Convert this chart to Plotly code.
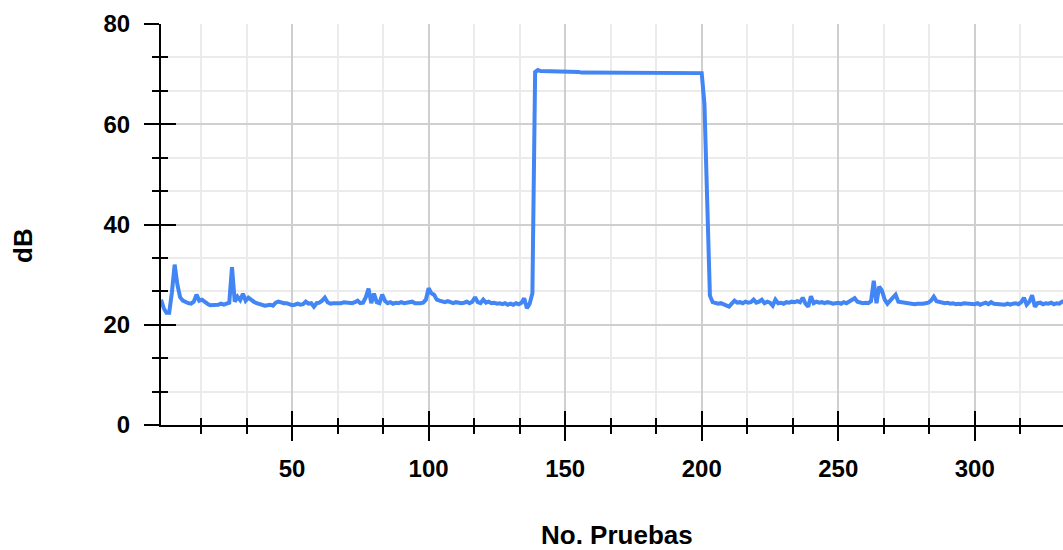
import plotly.graph_objects as go

# Test number (x) and measured level in dB (y)
pruebas = list(range(2, 334))

db_values = [
    25.0, 23.3, 22.4, 22.4, 26.5, 32.0, 28.0, 25.5, 24.8,            # 2-10
    24.5, 24.3, 24.2, 24.6, 26.0, 24.8, 25.0, 24.5, 24.2, 23.9,      # 11-20
    23.9, 24.1, 24.0, 24.2, 24.0, 24.2, 24.4, 31.5, 24.6, 25.6,      # 21-30
    24.9, 26.2, 24.8, 25.4, 24.9, 24.6, 24.3, 24.1, 23.9, 23.8,      # 31-40
    23.9, 24.0, 23.8, 24.4, 24.6, 24.4, 24.3, 24.3, 24.1, 23.9,      # 41-50
    24.0, 24.2, 24.0, 24.1, 24.6, 24.2, 24.3, 23.6, 24.3, 24.4,      # 51-60
    24.8, 25.4, 24.5, 24.2, 24.3, 24.3, 24.4, 24.3, 24.5, 24.4,      # 61-70
    24.4, 24.3, 24.5, 24.8, 24.3, 24.4, 25.5, 27.2, 24.3, 26.2,      # 71-80
    24.5, 24.3, 26.0, 24.8, 24.3, 24.5, 24.2, 24.4, 24.3, 24.5,      # 81-90
    24.3, 24.4, 24.5, 24.6, 24.3, 24.2, 24.3, 24.4, 25.0, 27.3,      # 91-100
    26.3, 26.0, 25.0, 24.8, 24.6, 24.5, 24.7, 24.4, 24.3, 24.5,      # 101-110
    24.4, 24.3, 24.4, 24.6, 24.3, 24.6, 25.5, 24.5, 24.3, 25.0,      # 111-120
    24.4, 24.6, 24.3, 24.4, 24.2, 24.3, 24.1, 24.3, 24.0, 24.2,      # 121-130
    24.0, 24.3, 24.1, 24.4, 25.3, 23.3, 24.2, 26.3, 70.4, 70.8,      # 131-140
    70.6, 70.6, 70.6, 70.6, 70.6, 70.4, 70.4, 70.4, 70.4, 70.4,      # 141-150
    70.4, 70.4, 70.4, 70.4, 70.4, 70.3, 70.3, 70.3, 70.3, 70.3,      # 151-160
    70.3, 70.3, 70.3, 70.3, 70.3, 70.3, 70.3, 70.3, 70.3, 70.3,      # 161-170
    70.3, 70.3, 70.3, 70.3, 70.3, 70.2, 70.2, 70.2, 70.2, 70.2,      # 171-180
    70.2, 70.2, 70.2, 70.2, 70.2, 70.2, 70.2, 70.2, 70.2, 70.2,      # 181-190
    70.2, 70.2, 70.2, 70.2, 70.2, 70.2, 70.2, 70.2, 70.2, 70.2,      # 191-200
    64.0, 45.0, 25.8, 24.5, 24.3, 24.2, 24.3, 24.1, 24.0, 23.6,      # 201-210
    24.2, 24.8, 24.4, 24.5, 24.3, 24.6, 24.4, 24.5, 25.0, 24.4,      # 211-220
    24.6, 25.0, 24.3, 24.6, 24.4, 23.8, 25.0, 24.3, 24.4, 24.2,      # 221-230
    24.5, 24.4, 24.6, 24.5, 24.7, 24.5, 25.4, 24.2, 23.6, 25.7,      # 231-240
    24.3, 24.6, 24.4, 24.5, 24.3, 24.5, 24.4, 24.2, 24.3, 24.4,      # 241-250
    24.2, 24.5, 24.3, 24.6, 24.8, 25.3, 24.6, 24.4, 24.3, 24.4,      # 251-260
    24.3, 24.7, 28.8, 24.3, 27.6, 26.8, 25.0, 24.2, 24.8, 25.2,      # 261-270
    26.0, 24.6, 24.5, 24.4, 24.3, 24.2, 24.2, 24.1, 24.2, 24.1,      # 271-280
    24.2, 24.3, 24.4, 24.8, 25.6, 24.7, 24.5, 24.4, 24.3, 24.4,      # 281-290
    24.2, 24.3, 24.1, 24.2, 24.1, 24.3, 24.2, 24.1, 24.0, 24.1,      # 291-300
    24.3, 24.0, 24.2, 24.4, 24.1, 24.5, 24.2, 24.1, 24.0, 23.9,      # 301-310
    24.0, 24.2, 24.0, 24.2, 24.3, 24.1, 24.5, 25.4, 24.0, 24.6,      # 311-320
    25.9, 23.6, 24.3, 24.4, 24.1, 24.3, 24.2, 24.4, 24.1, 24.3,      # 321-330
    24.2, 24.6, 24.7,                                                # 331-333
]

x_major_ticks = [50, 100, 150, 200, 250, 300]
y_major_ticks = [0, 20, 40, 60, 80]
x_title = "No. Pruebas"
y_title = "dB"

FONT = "Liberation Sans, Arial, sans-serif"
tickfont = dict(family=FONT, size=24, color="#000000", weight="bold")
titlefont = dict(family=FONT, size=26, color="#000000", weight="bold")

fig = go.Figure()
fig.add_trace(go.Scatter(
    x=pruebas, y=db_values, mode="lines",
    line=dict(color="#4285F4", width=4),
    xaxis="x", yaxis="y", showlegend=False,
))
# invisible twin trace that carries the inside-tick overlay axes
fig.add_trace(go.Scatter(
    x=pruebas, y=db_values, mode="lines",
    line=dict(color="rgba(0,0,0,0)", width=0),
    xaxis="x2", yaxis="y2", showlegend=False, hoverinfo="skip",
))

xr = [2, 332.3]
yr = [0, 80]

fig.update_layout(
    width=1063, height=550,
    margin=dict(l=161, r=0, t=24, b=125),
    paper_bgcolor="white", plot_bgcolor="white",
    xaxis=dict(
        range=xr, tickmode="array", tickvals=x_major_ticks,
        ticks="outside", ticklen=14, tickwidth=2, tickcolor="black",
        showline=True, linecolor="black", linewidth=2,
        showgrid=True, gridcolor="#cfcfcf", gridwidth=2,
        zeroline=False, tickfont=tickfont, ticklabelstandoff=7,
        minor=dict(tick0=0, dtick=50/3, ticks="outside", ticklen=7,
                   tickwidth=2, tickcolor="black",
                   showgrid=True, gridcolor="#ebebeb", gridwidth=2),
    ),
    yaxis=dict(
        range=yr, tickmode="array", tickvals=y_major_ticks,
        ticks="outside", ticklen=15, tickwidth=2, tickcolor="black",
        showline=True, linecolor="black", linewidth=2,
        showgrid=True, gridcolor="#cfcfcf", gridwidth=2,
        zeroline=False, tickfont=tickfont, ticklabelstandoff=9,
        minor=dict(tick0=0, dtick=20/3, ticks="outside", ticklen=7,
                   tickwidth=2, tickcolor="black",
                   showgrid=True, gridcolor="#ebebeb", gridwidth=2),
    ),
    xaxis2=dict(
        range=xr, overlaying="x", anchor="y2", side="bottom",
        tickmode="array", tickvals=x_major_ticks,
        ticks="inside", ticklen=14, tickwidth=2, tickcolor="black",
        showticklabels=False, showgrid=False, showline=False, zeroline=False,
        minor=dict(tick0=0, dtick=50/3, ticks="inside", ticklen=7,
                   tickwidth=2, tickcolor="black", showgrid=False),
    ),
    yaxis2=dict(
        range=yr, overlaying="y", anchor="x2", side="left",
        tickmode="array", tickvals=y_major_ticks,
        ticks="inside", ticklen=15, tickwidth=2, tickcolor="black",
        showticklabels=False, showgrid=False, showline=False, zeroline=False,
        minor=dict(tick0=0, dtick=20/3, ticks="inside", ticklen=7,
                   tickwidth=2, tickcolor="black", showgrid=False),
    ),
    annotations=[
        dict(text=x_title, font=titlefont, showarrow=False,
             xref="paper", yref="paper", x=0.5055, y=-0.274,
             xanchor="center", yanchor="middle"),
        dict(text=y_title, font=titlefont, showarrow=False, textangle=-90,
             xref="paper", yref="paper", x=-0.153, y=0.449,
             xanchor="center", yanchor="middle"),
    ],
)

fig.write_html("out.html")
